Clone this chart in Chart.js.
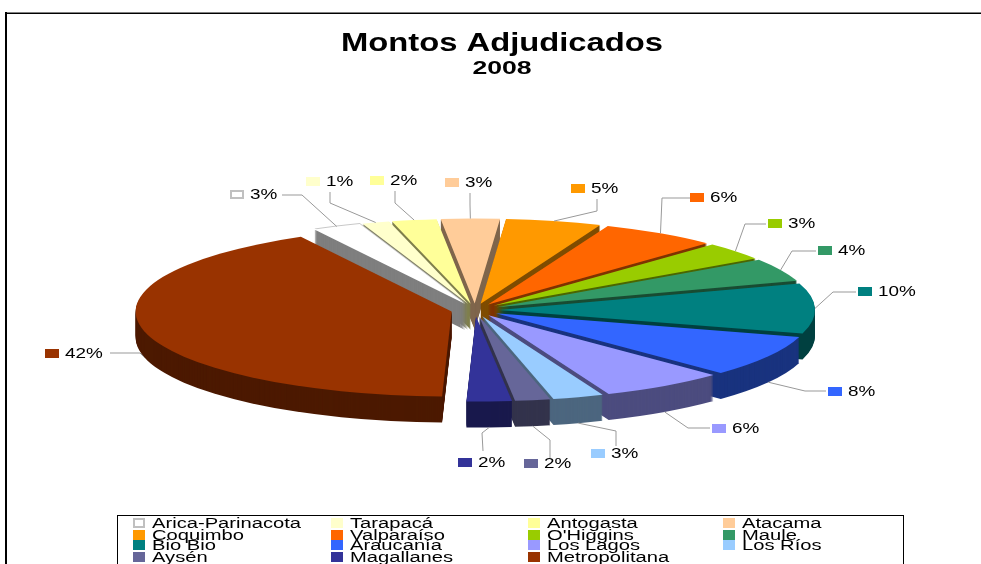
<!DOCTYPE html>
<html>

<head>
    <meta charset="utf-8">
    <script src="https://cdn.jsdelivr.net/npm/chart.js"></script>
    <style>
        html, body {
            margin: 0;
            background: #fff;
            overflow: hidden;
        }

        #pie-chart {
            display: block;
        }
    </style>
</head>

<body>
    <canvas id="pie-chart" width="981" height="564"></canvas>

    <script>
        const chartTitle = "Montos Adjudicados";
        const chartSubtitle = "2008";
        const regions = ["Arica-Parinacota", "Tarapacá", "Antogasta", "Atacama", "Coquimbo", "Valparaíso", "O'Higgins", "Maule", "Bio Bio", "Araucanía", "Los Lagos", "Los Ríos", "Aysén", "Magallanes", "Metropolitana"];
        const shares = [2.5, 1.4, 2.3, 3.0, 4.9, 6.0, 3.4, 4.4, 9.5, 7.9, 6.4, 2.6, 1.8, 2.3, 41.6];
        const sliceColors = ["#ffffff", "#ffffcc", "#ffff99", "#ffcc99", "#ff9900", "#ff6600", "#99cc00", "#339966", "#008080", "#3366ff", "#9999ff", "#99ccff", "#666699", "#333399", "#993300"];

        // pie geometry on the page (Chart.js draws a round pie, we squash it)
        const PIE_RADIUS = 100;
        const CENTER_X = 475;
        const CENTER_Y = 310;
        const RADIUS_X = 316;
        const RADIUS_Y = 85;
        const DEPTH = 26;
        const EXPLODE = 24;

        // callout layout per slice: swatch x, swatch y, then the leader start and elbow
        const callouts = [
            [230, 190, 282, 195, 302, 195],
            [306, 177, 330, 192, 330, 203],
            [370, 176, 395, 191, 395, 203],
            [445, 178, 470, 193, 470, 205],
            [571, 184, 597, 199, 597, 211],
            [690, 193, 690, 198, 662, 198],
            [768, 219, 766, 224, 745, 224],
            [818, 246, 816, 251, 792, 251],
            [858, 287, 856, 292, 833, 292],
            [828, 387, 826, 391, 805, 391],
            [712, 424, 710, 428, 688, 428],
            [591, 449, 616, 446, 616, 431],
            [524, 459, 550, 458, 550, 440],
            [458, 458, 483, 451, 482, 433],
            [45, 349, 110, 353, 140, 353]
        ];

        function stretchText(ctx, text, x, y, font, stretch, align) {
            ctx.save();
            ctx.font = font;
            ctx.fillStyle = '#000';
            ctx.textBaseline = 'middle';
            ctx.textAlign = align || 'left';
            ctx.translate(x, y);
            ctx.scale(stretch, 1);
            ctx.fillText(text, 0, 0);
            ctx.restore();
        }

        function darken(hex) {
            const n = parseInt(hex.slice(1), 16);
            return `rgb(${(n >> 16) >> 1},${((n >> 8) & 255) >> 1},${(n & 255) >> 1})`;
        }

        function midAngle(arc) {
            return (arc.startAngle + arc.endAngle) / 2;
        }

        function drawArcAs(ctx, arc, color, dy) {
            const copy = Object.create(arc);
            copy.options = Object.assign({}, arc.options, { backgroundColor: color });
            const m = midAngle(arc);
            ctx.save();
            ctx.translate(CENTER_X + EXPLODE * Math.cos(m), CENTER_Y + dy + EXPLODE * RADIUS_Y / RADIUS_X * Math.sin(m));
            ctx.scale(RADIUS_X / PIE_RADIUS, RADIUS_Y / PIE_RADIUS);
            ctx.translate(-arc.x, -arc.y);
            copy.draw(ctx);
            ctx.restore();
        }

        const squashedPie = {
            id: 'squashedPie',
            beforeDraw(chart) {
                const ctx = chart.ctx;
                ctx.save();
                ctx.fillStyle = '#808080';
                ctx.fillRect(5, 12, 976, 1);
                ctx.fillStyle = '#000';
                ctx.fillRect(5, 13, 976, 1);
                ctx.fillRect(5, 12, 2, 552);
                ctx.restore();
            },
            beforeDatasetsDraw(chart) {
                const ctx = chart.ctx;
                const arcs = chart.getDatasetMeta(0).data.map((arc, i) => ({ arc, i }));
                arcs.sort((a, b) => Math.sin(midAngle(a.arc)) - Math.sin(midAngle(b.arc)));
                arcs.forEach(({ arc, i }) => {
                    for (let d = DEPTH; d > 0; d--) {
                        drawArcAs(ctx, arc, darken(sliceColors[i]), d);
                    }
                    if (sliceColors[i] === '#ffffff') {
                        drawArcAs(ctx, arc, '#c8c8c8', -1);
                    }
                    drawArcAs(ctx, arc, sliceColors[i], 0);
                });
                return false;
            },
            afterDraw(chart) {
                const ctx = chart.ctx;
                const arcs = chart.getDatasetMeta(0).data;
                const total = shares.reduce((a, b) => a + b, 0);

                stretchText(ctx, chartTitle, 502, 44, 'bold 25px "Liberation Sans"', 1.31, 'center');
                stretchText(ctx, chartSubtitle, 502, 69, 'bold 19px "Liberation Sans"', 1.4, 'center');

                arcs.forEach((arc, i) => {
                    const [sx, sy, lx, ly, ex, ey] = callouts[i];
                    const m = midAngle(arc);
                    const ax = CENTER_X + (RADIUS_X + EXPLODE) * Math.cos(m);
                    const ay = CENTER_Y + (RADIUS_Y + EXPLODE * RADIUS_Y / RADIUS_X) * Math.sin(m) + (Math.sin(m) > 0.2 ? DEPTH : 0);

                    ctx.save();
                    ctx.strokeStyle = '#999999';
                    ctx.lineWidth = 1;
                    ctx.beginPath();
                    ctx.moveTo(lx, ly);
                    ctx.lineTo(ex, ey);
                    ctx.lineTo(ax, ay);
                    ctx.stroke();
                    drawSwatch(ctx, sx, sy, 14, 9, sliceColors[i]);
                    ctx.restore();

                    const pct = Math.round(shares[i] / total * 100) + '%';
                    stretchText(ctx, pct, sx + 20, sy + 5, '14px "Liberation Sans"', 1.35);
                });

                // legend box, its lower edge runs off the page like in the original
                ctx.save();
                ctx.strokeStyle = '#000';
                ctx.lineWidth = 1;
                ctx.strokeRect(117.5, 515.5, 786, 70);
                ctx.restore();
                const colX = [133, 331, 528, 723];
                const rowY = [523, 535, 545, 557];
                regions.forEach((name, i) => {
                    const x = colX[i % 4];
                    const y = rowY[Math.floor(i / 4)];
                    drawSwatch(ctx, x, y - 5, 12, 10, sliceColors[i]);
                    stretchText(ctx, name, x + 19, y + 1, '14px "Liberation Sans"', 1.44);
                });
            }
        };

        function drawSwatch(ctx, x, y, w, h, color) {
            ctx.fillStyle = color;
            ctx.fillRect(x, y, w, h);
            if (color === '#ffffff') {
                ctx.strokeStyle = '#c0c0c0';
                ctx.lineWidth = 2;
                ctx.strokeRect(x + 1, y + 1, w - 2, h - 2);
            }
        }

        new Chart(document.getElementById('pie-chart'), {
            type: 'pie',
            data: {
                labels: regions,
                datasets: [{
                    data: shares,
                    backgroundColor: sliceColors,
                    borderWidth: 0
                }]
            },
            options: {
                responsive: false,
                animation: false,
                events: [],
                rotation: -28.5,
                radius: PIE_RADIUS,
                plugins: {
                    legend: { display: false },
                    title: { display: false },
                    tooltip: { enabled: false }
                }
            },
            plugins: [squashedPie]
        });
    </script>
</body>

</html>
